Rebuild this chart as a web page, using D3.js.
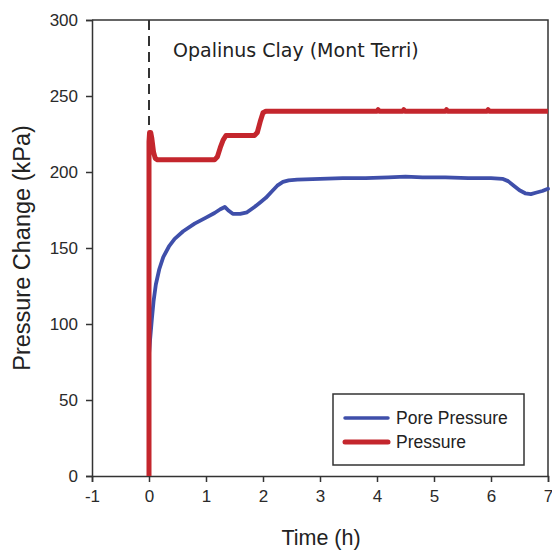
<!DOCTYPE html>
<html>
<head>
<meta charset="utf-8">
<script src="https://cdn.jsdelivr.net/npm/d3@7"></script>
<style>
  html, body { margin: 0; padding: 0; background: #fff; }
  svg { display: block; }
</style>
</head>
<body>
<svg id="chart" width="552" height="550"></svg>
<script>
// ---- data ----
const xTicks = [-1, 0, 1, 2, 3, 4, 5, 6, 7];
const yTicks = [0, 50, 100, 150, 200, 250, 300];

const poreTime = [0.0, 0.02, 0.05, 0.08, 0.12, 0.18, 0.25, 0.35, 0.45, 0.6, 0.8, 1.0, 1.15, 1.25, 1.33, 1.4, 1.47, 1.6, 1.72, 1.85, 1.95, 2.05, 2.15, 2.25, 2.35, 2.45, 2.6, 3.0, 3.4, 3.8, 4.2, 4.5, 4.8, 5.2, 5.6, 6.0, 6.2, 6.3, 6.4, 6.5, 6.6, 6.7, 6.8, 6.9, 7.0];
const porePressure = [80, 90, 103, 115, 126, 136, 144, 151, 156, 161, 166, 170, 173, 175.5, 177, 174.5, 172.5, 172.5, 173.5, 177, 180, 183, 187, 191, 193.5, 194.5, 195, 195.5, 196, 196, 196.5, 197, 196.5, 196.5, 196, 196, 195.5, 194, 191, 188, 186, 185.5, 186.5, 187.5, 189];

const pressTime = [0, 0, 0.01, 0.03, 0.05, 0.08, 0.11, 0.15, 1.15, 1.2, 1.25, 1.3, 1.35, 1.85, 1.9, 1.95, 2.0, 2.05, 4.0, 4.02, 4.04, 4.45, 4.47, 4.49, 5.2, 5.22, 5.24, 5.93, 5.95, 5.97, 7.0];
const pressure = [0, 220, 226, 226, 222, 213, 209, 208, 208, 210, 216, 221, 224, 224, 226, 233, 239, 240, 240, 241, 240, 240, 241, 240, 240, 241, 240, 240, 241, 240, 240];

const seriesNames = ["Pore Pressure", "Pressure"];
const seriesColors = ["#3f4faa", "#c4262d"];
const annotation = "Opalinus Clay (Mont Terri)";
const xTitle = "Time (h)";
const yTitle = "Pressure Change (kPa)";

// ---- layout ----
const W = 552, H = 550;
const m = { left: 92, right: 4, top: 20, bottom: 74 };
const svg = d3.select("#chart");

const x = d3.scaleLinear().domain([-1, 7]).range([m.left, W - m.right]);
const y = d3.scaleLinear().domain([0, 300]).range([H - m.bottom, m.top]);

const tickFont = "Liberation Sans, Arial, sans-serif";

// frame (top and right)
svg.append("path")
  .attr("d", `M${x(-1)},${y(300)}H${x(7)}V${y(0)}`)
  .attr("fill", "none").attr("stroke", "#333").attr("stroke-width", 1.5);

// axes
const xAxis = svg.append("g")
  .attr("transform", `translate(0,${y(0)})`)
  .call(d3.axisBottom(x).tickValues(xTicks).tickSize(6).tickPadding(8).tickFormat(d3.format("d")));
const yAxis = svg.append("g")
  .attr("transform", `translate(${x(-1)},0)`)
  .call(d3.axisLeft(y).tickValues(yTicks).tickSize(6).tickPadding(8));
[xAxis, yAxis].forEach(g => {
  g.select(".domain").attr("stroke", "#333").attr("stroke-width", 1.5);
  g.selectAll(".tick line").attr("stroke", "#333").attr("stroke-width", 1.5);
  g.selectAll(".tick text").attr("fill", "#2a2a2a").style("font-family", tickFont).style("font-size", "17px");
});
xAxis.selectAll(".tick text").text(d => d < 0 ? "-" + Math.abs(d) : d);

// dashed marker at t=0
svg.append("line")
  .attr("x1", x(0)).attr("x2", x(0))
  .attr("y1", y(300)).attr("y2", y(231))
  .attr("stroke", "#333").attr("stroke-width", 2)
  .attr("stroke-dasharray", "10,6");

// lines
const line = d3.line().x(d => x(d[0])).y(d => y(d[1]));
const poreData = poreTime.map((t, i) => [t, porePressure[i]]);
const pressData = pressTime.map((t, i) => [t, pressure[i]]);

svg.append("path").datum(poreData)
  .attr("d", line).attr("fill", "none")
  .attr("stroke", seriesColors[0]).attr("stroke-width", 3.8)
  .attr("stroke-linejoin", "round").attr("stroke-linecap", "round");
svg.append("path").datum(pressData)
  .attr("d", line).attr("fill", "none")
  .attr("stroke", seriesColors[1]).attr("stroke-width", 5)
  .attr("stroke-linejoin", "round");

// annotation
svg.append("text")
  .attr("x", 173).attr("y", 57)
  .style("font-family", "DejaVu Sans, Verdana, sans-serif")
  .style("font-size", "19px")
  .attr("fill", "#222")
  .text(annotation);

// axis titles
svg.append("text")
  .attr("x", 321).attr("y", 545)
  .attr("text-anchor", "middle")
  .style("font-family", tickFont).style("font-size", "21.5px").attr("fill", "#222")
  .text(xTitle);
svg.append("text")
  .attr("transform", `translate(30,${248}) rotate(-90)`)
  .attr("text-anchor", "middle")
  .style("font-family", tickFont).style("font-size", "23.5px").attr("fill", "#222")
  .text(yTitle);

// legend
const lg = svg.append("g");
lg.append("rect")
  .attr("x", 333).attr("y", 394).attr("width", 191).attr("height", 71)
  .attr("fill", "#fff").attr("stroke", "#333").attr("stroke-width", 1.5);
seriesNames.forEach((name, i) => {
  const yy = 418 + i * 24;
  lg.append("line")
    .attr("x1", 345).attr("x2", 388).attr("y1", yy).attr("y2", yy)
    .attr("stroke", seriesColors[i]).attr("stroke-width", i === 0 ? 3.5 : 5)
    .attr("stroke-linecap", "round");
  lg.append("text")
    .attr("x", 396).attr("y", yy + 6)
    .style("font-family", tickFont).style("font-size", "17.5px").attr("fill", "#222")
    .text(name);
});
</script>
</body>
</html>
